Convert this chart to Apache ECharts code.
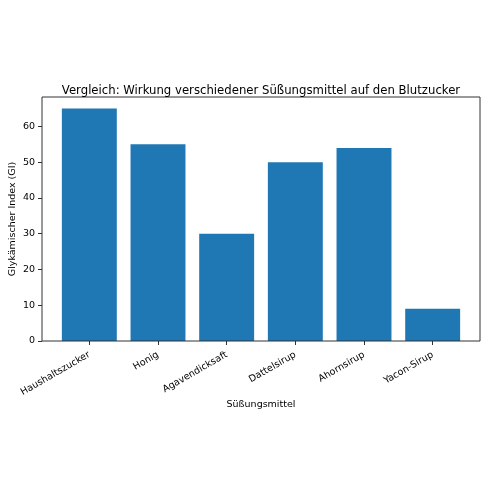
<!DOCTYPE html>
<html><head><meta charset="utf-8">
<script src="https://cdn.jsdelivr.net/npm/echarts@6/dist/echarts.min.js"></script>
<style>html,body{margin:0;padding:0;background:#fff}#c{width:490px;height:490px}</style>
</head><body><div id="c"></div>
<script>
const categories = ["Haushaltszucker","Honig","Agavendicksaft","Dattelsirup","Ahornsirup","Yacon-Sirup"];
const giValues = [65, 55, 30, 50, 54, 9];
const yTicks = [0, 10, 20, 30, 40, 50, 60];

const F = "DejaVu Sans";
const yMax = 68.25;
const chart = echarts.init(document.getElementById('c'), null, {renderer:'canvas'});
chart.setOption({
  animation:false,
  title:{text:"Vergleich: Wirkung verschiedener Süßungsmittel auf den Blutzucker",left:256,textAlign:'center',top:80,
    textStyle:{fontFamily:F,fontSize:11.7,fontWeight:'normal',color:'#000'}},
  grid:[
    {left:42,right:10,top:97,bottom:149,show:true,borderColor:'#333',borderWidth:1,backgroundColor:'transparent',z:5,outerBoundsMode:'none',containLabel:false},
    {left:55,right:23,top:97,bottom:149,outerBoundsMode:'none',containLabel:false}
  ],
  xAxis:[
    {gridIndex:0,type:'value',min:0,max:1,show:false},
    {gridIndex:1,type:'category',data:categories,boundaryGap:true,
      axisLine:{show:false},
      axisTick:{show:true,alignWithLabel:true,length:4,lineStyle:{color:'#333'}},
      axisLabel:{rotate:30,fontFamily:F,fontSize:9.5,color:'#000',margin:13,interval:0},
      name:'Süßungsmittel',nameLocation:'middle',nameGap:59,nameMoveOverlap:false,
      nameTextStyle:{fontFamily:F,fontSize:9.5,color:'#000'}}
  ],
  yAxis:[
    {gridIndex:0,type:'value',min:0,max:yMax,interval:10,
      axisLine:{show:false},splitLine:{show:false},
      axisTick:{show:true,length:4,lineStyle:{color:'#333'}},
      axisLabel:{fontFamily:F,fontSize:9.5,color:'#000',margin:7,showMaxLabel:false,
        formatter:v=>yTicks.includes(v)?String(v):''},
      name:'Glykämischer Index (GI)',nameLocation:'middle',nameGap:24,nameMoveOverlap:false,
      nameTextStyle:{fontFamily:F,fontSize:9.5,color:'#000'}},
    {gridIndex:1,type:'value',min:0,max:yMax,show:false}
  ],
  series:[{type:'bar',xAxisIndex:1,yAxisIndex:1,data:giValues,barCategoryGap:'20%',
    itemStyle:{color:'#1f77b4'}}]
});
</script></body></html>
